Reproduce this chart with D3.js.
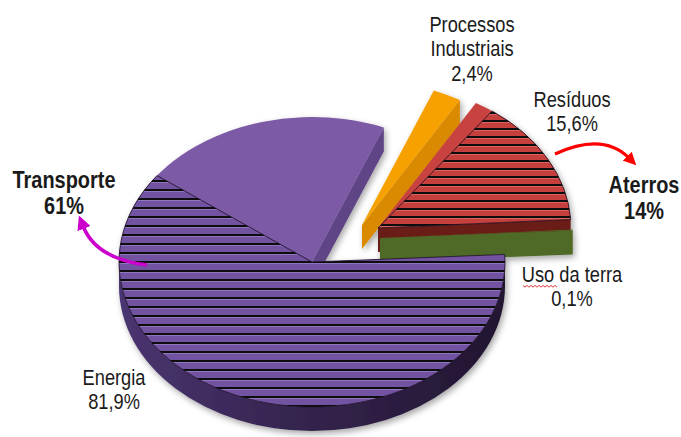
<!DOCTYPE html>
<html>
<head>
<meta charset="utf-8">
<script src="https://cdn.jsdelivr.net/npm/d3@7"></script>
<style>
  body { margin: 0; background: #fff; }
  text { font-family: "Liberation Sans", Arial, sans-serif; fill: #1a1a1a; }
</style>
</head>
<body>
<div id="chart"></div>
<script>
// ===== DATA =====
const sectors = ["Energia", "Processos Industriais", "Resíduos", "Uso da terra"];
const shares = [81.9, 2.4, 15.6, 0.1];
// hatched sub-parts (share of the whole pie)
const subNames = ["Transporte", "Aterros"];
const subShares = [61, 14];
const subParent = [0, 2];

// ===== SIZE =====
const width = 681;
const height = 437;
const cx = 312, cy = 262, rx = 193, ry = 145, depth = 24;
const start = 87 * Math.PI / 180;

// exploded offsets per slice (layout)
const explode = [[0, 0], [50, -37], [66, -34], [68, -24]];
const topColor = ["#7b5aa6", "#f7a100", "#c8423f", "#4f6a25"];
const faceColor = ["#5e4585", "#d98a00", "#6b1b19", "#4f6a25"];

d3.select("#chart").selectAll("*").remove();

const svg = d3.select("#chart")
  .append("svg")
  .attr("width", width)
  .attr("height", height);

const defs = svg.append("defs");

function hatch(id, base, gap, hi){
  const p = defs.append("pattern")
    .attr("id", id)
    .attr("patternUnits", "userSpaceOnUse")
    .attr("width", 20)
    .attr("height", gap);
  p.append("rect").attr("width", 20).attr("height", gap).attr("fill", base);
  p.append("rect").attr("y", 0).attr("width", 20).attr("height", 2).attr("fill", "#0c070f");
  p.append("rect").attr("y", 2).attr("width", 20).attr("height", 1).attr("fill", hi);
}
hatch("hatchPurple", "#7152a1", 9, "#8f74bd");
hatch("hatchRed", "#c5403d", 8, "#d8625f");

const wallGrad = defs.append("linearGradient")
  .attr("id", "wallGrad")
  .attr("gradientUnits", "userSpaceOnUse")
  .attr("x1", cx - rx).attr("x2", cx + rx).attr("y1", 0).attr("y2", 0);
wallGrad.append("stop").attr("offset", 0).attr("stop-color", "#4a3571");
wallGrad.append("stop").attr("offset", 0.45).attr("stop-color", "#35254f");
wallGrad.append("stop").attr("offset", 1).attr("stop-color", "#221530");

const shadow = defs.append("filter").attr("id", "shadow")
  .attr("x", "-10%").attr("y", "-10%").attr("width", "120%").attr("height", "125%");
shadow.append("feDropShadow")
  .attr("dx", 2).attr("dy", 3).attr("stdDeviation", 3)
  .attr("flood-color", "#000").attr("flood-opacity", 0.35);

function marker(id, color){
  defs.append("marker")
    .attr("id", id)
    .attr("viewBox", "0 0 10 10")
    .attr("refX", 2).attr("refY", 5)
    .attr("markerWidth", 4).attr("markerHeight", 4)
    .attr("markerUnits", "strokeWidth")
    .attr("orient", "auto")
    .append("path")
    .attr("d", "M0,0L10,5L0,10Z")
    .attr("fill", color);
}
marker("arrowMag", "#cc00cc");
marker("arrowRed", "#ff0000");

// ===== PIE GEOMETRY =====
const pie = d3.pie().sort(null).value(d => d)
  .startAngle(start).endAngle(start + 2 * Math.PI);
const slices = pie(shares);

const angle = d3.scaleLinear()
  .domain([0, d3.sum(shares)])
  .range([0, 2 * Math.PI]);

function pt(o, a, dy = 0){
  return [cx + o[0] + rx * Math.sin(a), cy + o[1] - ry * Math.cos(a) + dy];
}

function topPath(o, a0, a1){
  const c = [cx + o[0], cy + o[1]];
  const p0 = pt(o, a0), p1 = pt(o, a1);
  const large = (a1 - a0) > Math.PI ? 1 : 0;
  return `M${c}L${p0}A${rx},${ry} 0 ${large} 1 ${p1}Z`;
}

function facePath(o, a){
  const c = [cx + o[0], cy + o[1]];
  const p = pt(o, a);
  return `M${c}L${p}L${p[0]},${p[1] + depth}L${c[0]},${c[1] + depth}Z`;
}

function wallPaths(o, a0, a1){
  const out = [];
  for (const k of [-2 * Math.PI, 0, 2 * Math.PI]){
    const s = Math.max(a0, Math.PI / 2 + k);
    const e = Math.min(a1, 3 * Math.PI / 2 + k);
    if (s < e){
      const large = (e - s) > Math.PI ? 1 : 0;
      out.push(`M${pt(o, s)}A${rx},${ry} 0 ${large} 1 ${pt(o, e)}` +
        `L${pt(o, e, depth)}A${rx},${ry} 0 ${large} 0 ${pt(o, s, depth)}Z`);
    }
  }
  return out;
}

const pieG = svg.append("g").attr("filter", "url(#shadow)");

// back slices first, Energia last (front)
[1, 2, 3, 0].forEach(i => {
  const s = slices[i];
  const o = explode[i];
  const g = pieG.append("g");

  // visible radial face at the clockwise end
  if (Math.sin(s.endAngle) > 0){
    g.append("path").attr("d", facePath(o, s.endAngle)).attr("fill", faceColor[i]);
  }
  if (-Math.sin(s.startAngle) > 0){
    g.append("path").attr("d", facePath(o, s.startAngle)).attr("fill", faceColor[i]);
  }
  wallPaths(o, s.startAngle, s.endAngle).forEach(d => {
    g.append("path").attr("d", d)
      .attr("fill", i === 0 ? "url(#wallGrad)" : faceColor[i]);
  });

  g.append("path")
    .attr("d", topPath(o, s.startAngle, s.endAngle))
    .attr("fill", topColor[i]);

  // hatched sub-part
  subParent.forEach((pIdx, j) => {
    if (pIdx !== i) return;
    const span = angle(subShares[j]);
    const a0 = i === 0 ? s.startAngle : s.endAngle - span;
    const a1 = i === 0 ? s.startAngle + span : s.endAngle;
    g.append("path")
      .attr("d", topPath(o, a0, a1))
      .attr("fill", i === 0 ? "url(#hatchPurple)" : "url(#hatchRed)")
      .attr("stroke", "#1a0f22")
      .attr("stroke-width", 0.8);
  });
});

// ===== LABELS =====
const fmt = v => String(v).replace(".", ",") + "%";
const sectorLines = sectors.map(n => n === "Processos Industriais" ? n.split(" ") : [n]);

const labelPos = [
  { x: 114, y: 385 },
  { x: 472, y: 32 },
  { x: 572, y: 107 },
  { x: 572, y: 282 }
];
const subPos = [
  { x: 64, y: 188 },
  { x: 644, y: 193 }
];

function label(x, y, lines, size, weight, lh){
  const t = svg.append("g")
    .attr("transform", `translate(${x},${y}) scale(0.83,1)`)
    .append("text")
    .attr("text-anchor", "middle")
    .style("font-size", size + "px")
    .style("font-weight", weight);
  lines.forEach((l, k) => {
    t.append("tspan").attr("x", 0).attr("y", k * lh).text(l);
  });
}

sectors.forEach((n, i) => {
  label(labelPos[i].x, labelPos[i].y, sectorLines[i].concat([fmt(shares[i])]), 22, "normal", 24.5);
});
subNames.forEach((n, j) => {
  label(subPos[j].x, subPos[j].y, [n, fmt(subShares[j])], 24, "bold", 26);
});

// spell-check squiggle under "Uso"
const sq = d3.range(0, 35, 2).map((d, k) => [523 + d, 286 + (k % 2 ? 1.2 : -0.6)]);
svg.append("path")
  .attr("d", d3.line()(sq))
  .attr("fill", "none")
  .attr("stroke", "#e02020")
  .attr("stroke-width", 0.9);

// ===== ARROWS =====
svg.append("path")
  .attr("d", "M147,265 Q96,259 83,226")
  .attr("fill", "none")
  .attr("stroke", "#cc00cc")
  .attr("stroke-width", 3.5)
  .attr("marker-end", "url(#arrowMag)");

svg.append("path")
  .attr("d", "M555,154 Q603,132 629,158")
  .attr("fill", "none")
  .attr("stroke", "#ff0000")
  .attr("stroke-width", 3.2)
  .attr("marker-end", "url(#arrowRed)");
</script>
</body>
</html>
